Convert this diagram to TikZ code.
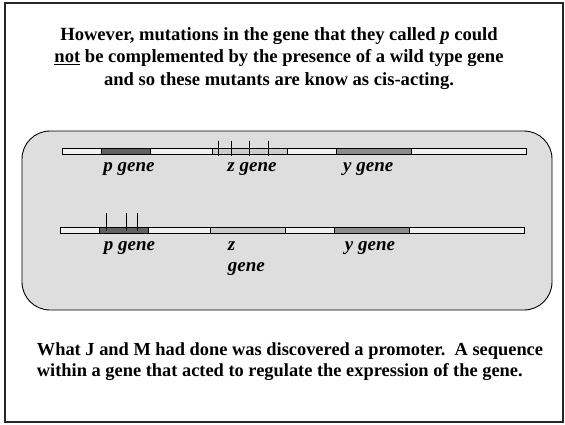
\documentclass[tikz,border=0pt]{standalone}
\usepackage{fontspec}
\setmainfont{Liberation Serif}
\begin{document}
\begin{tikzpicture}[x=1pt,y=-1pt,
  frame/.style={draw=black!85,line width=2pt},
  panel/.style={draw=black,line width=0.9pt,fill=black!13,rounded corners=28pt},
  seg/.style={draw=black,line width=0.8pt},
  light/.style={seg,fill=black!6},
  pcol/.style={seg,fill=black!62},
  zcol/.style={seg,fill=black!20},
  ycol/.style={seg,fill=black!45},
  mutmark/.style={draw=black,line width=0.9pt},
  lab/.style={font=\fontsize{19}{22}\selectfont\bfseries\itshape,inner sep=0pt,anchor=base},
  para/.style={font=\fontsize{18.6}{22.5}\selectfont\bfseries,inner sep=0pt}
]
\useasboundingbox (0,0) rectangle (565,424);
\draw[frame] (4.5,3) rectangle (562.5,422);
\node[para,align=center,anchor=north] (title) at (279,27.2)
  {However, mutations in the gene that they called \textit{p} could\\
   \underline{not} be complemented by the presence of a wild type gene\\
   and so these mutants are know as cis-acting.};
\draw[panel] (22,131) rectangle (552,310);
% top chromosome
\draw[light] (62,148.3) rectangle (101,154.3);
\draw[pcol] (101,148.3) rectangle (150,154.3);
\draw[light] (150,148.3) rectangle (212,154.3);
\draw[zcol] (212,148.3) rectangle (287,154.3);
\draw[light] (287,148.3) rectangle (336.7,154.3);
\draw[ycol] (336.7,148.3) rectangle (411.7,154.3);
\draw[light] (411.7,148.3) rectangle (526.7,154.3);
\foreach \x in {218.3,231.7,249,268.3} \draw[mutmark] (\x,140.7) -- (\x,156);
% bottom chromosome
\draw[light] (60.7,227.3) rectangle (99.3,233.3);
\draw[pcol] (99.3,227.3) rectangle (148,233.3);
\draw[light] (148,227.3) rectangle (210.3,233.3);
\draw[zcol] (210.3,227.3) rectangle (285.3,233.3);
\draw[light] (285.3,227.3) rectangle (334.3,233.3);
\draw[ycol] (334.3,227.3) rectangle (409.3,233.3);
\draw[light] (409.3,227.3) rectangle (524,233.3);
\foreach \x in {106.7,126.7,137.5} \draw[mutmark] (\x,213.3) -- (\x,230.7);
% labels
\node[lab] (p1) at (129,171) {p gene};
\node[lab] (z1) at (252,171) {z gene};
\node[lab] (y1) at (368.3,171) {y gene};
\node[lab] (p2) at (129.5,250) {p gene};
\node[lab,anchor=base west] (z2) at (227.7,250) {z};
\node[lab,anchor=base west] (z2b) at (227.7,271.7) {gene};
\node[lab] (y2) at (370,250) {y gene};
\node[para,align=left,anchor=north west,font=\fontsize{18.4}{21.3}\selectfont\bfseries] (concl) at (36.7,342.6)
  {What J and M had done was discovered a promoter.\ \ A sequence\\
   within a gene that acted to regulate the expression of the gene.};
\end{tikzpicture}
\end{document}
